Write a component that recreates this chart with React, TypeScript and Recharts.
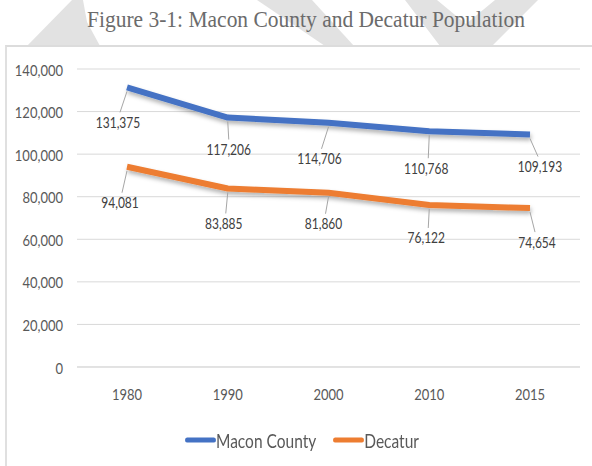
import React from 'react';
import { LineChart, Line, XAxis, YAxis, CartesianGrid, LabelList } from 'recharts';

const years = ['1980', '1990', '2000', '2010', '2015'];
const maconCounty = [131375, 117206, 114706, 110768, 109193];
const decatur = [94081, 83885, 81860, 76122, 74654];
const yTicks = [0, 20000, 40000, 60000, 80000, 100000, 120000, 140000];

const data = years.map((y, i) => ({ year: y, macon: maconCounty[i], decatur: decatur[i] }));

// label placement (dx, dy from point) – styling only
const MACON_OFFSETS = [[-9, 35], [1, 32], [-9, 36], [-3, 37], [10, 32]];
const DECATUR_OFFSETS = [[-7, 36], [-4, 35], [-5, 31], [-3, 33], [7, 34]];

const FONT = 'Lato, "Open Sans", sans-serif';
const BLUE = '#4472C4';
const ORANGE = '#ED7D31';
const TEXT = '#595959';
const STRETCH = 1.25;

const fmt = (v: number) => v.toLocaleString('en-US');

const SText = ({ x, y, anchor = 'middle', size, fill = TEXT, children }: any) => (
  <g transform={`translate(${x},${y}) scale(1,${STRETCH})`}>
    <text x={0} y={0} textAnchor={anchor} dominantBaseline="central" fill={fill} fontSize={size} fontFamily={FONT}>
      {children}
    </text>
  </g>
);

const YTick = (props: any) => {
  const { x, y, payload } = props;
  return <SText x={x} y={y} anchor="end" size={13}>{fmt(payload.value)}</SText>;
};

const XTick = (props: any) => {
  const { x, y, payload } = props;
  return <SText x={x} y={y} size={13}>{payload.value}</SText>;
};

const makeLabel = (offsets: number[][]) => (props: any) => {
  const { x, y, value, index } = props;
  const [dx, dy] = offsets[index] || [0, 34];
  const tx = x + dx;
  const ty = y + dy;
  return (
    <g>
      <line x1={x} y1={y + 4} x2={tx + (dx < 0 ? 2 : dx > 3 ? -2 : 0)} y2={ty - 10} stroke="#a6a6a6" strokeWidth={1} />
      <SText x={tx} y={ty} size={12} fill="#404040">{fmt(value)}</SText>
    </g>
  );
};

const WM = '#e2e2e2';

export default function App() {
  return (
    <div style={{ position: 'absolute', left: 0, top: 0, width: 592, height: 466, background: '#fff', overflow: 'hidden' }}>
      <svg width={592} height={50} style={{ position: 'absolute', left: 0, top: 0 }}>
        <polygon points="27,46 72,0 83,0 87,22 100,46" fill={WM} />
        <polygon points="257,0 312,0 354,46 325,46" fill={WM} />
        <polygon points="405,0 437,0 466,24 495,0 538,0 492,46 440,46" fill={WM} />
        <g transform={`translate(306,27) scale(1,1.12)`}>
          <text x={0} y={0} textAnchor="middle" fontFamily='"Liberation Serif", "Times New Roman", serif' fontSize={21.5} fill="#6b6b6b">
            Figure 3-1: Macon County and Decatur Population
          </text>
        </g>
      </svg>
      <div style={{ position: 'absolute', left: 5, top: 45, width: 600, height: 440, borderTop: '2px solid #dcdcdc', borderLeft: '2px solid #e0e0e0', background: '#fff', boxSizing: 'border-box' }} />
      <div style={{ position: 'absolute', left: 0, top: 0 }}>
        <LineChart width={592} height={466} data={data} margin={{ top: 69, right: 12, bottom: 0, left: 0 }}>
          <defs>
            <filter id="shadow" x="-10%" y="-50%" width="120%" height="200%">
              <feDropShadow dx="1" dy="3" stdDeviation="2" floodColor="#000" floodOpacity="0.3" />
            </filter>
          </defs>
          <CartesianGrid vertical={false} stroke="#d9d9d9" strokeWidth={1} />
          <XAxis
            dataKey="year"
            padding={{ left: 50, right: 50 }}
            axisLine={{ stroke: '#d9d9d9' }}
            tickLine={false}
            tick={<XTick />}
            tickMargin={20}
            height={99}
          />
          <YAxis
            width={77}
            domain={[0, 140000]}
            ticks={yTicks}
            axisLine={false}
            tickLine={false}
            tick={<YTick />}
            tickMargin={8}
          />
          <Line dataKey="macon" stroke={BLUE} strokeWidth={6} dot={false} isAnimationActive={false} filter="url(#shadow)" strokeLinejoin="round">
            <LabelList dataKey="macon" content={makeLabel(MACON_OFFSETS)} />
          </Line>
          <Line dataKey="decatur" stroke={ORANGE} strokeWidth={6} dot={false} isAnimationActive={false} filter="url(#shadow)" strokeLinejoin="round">
            <LabelList dataKey="decatur" content={makeLabel(DECATUR_OFFSETS)} />
          </Line>
        </LineChart>
      </div>
      <div style={{ position: 'absolute', left: 185, top: 428, height: 24, display: 'flex', alignItems: 'center', fontFamily: FONT, fontSize: 15.5, color: TEXT, transform: `scale(1,${STRETCH})`, transformOrigin: '0 50%' }}>
        <span style={{ display: 'inline-block', width: 31, height: 4, background: BLUE, borderRadius: 2 }} />
        <span style={{ marginRight: 17 }}>Macon County</span>
        <span style={{ display: 'inline-block', width: 31, height: 4, background: ORANGE, borderRadius: 2 }} />
        <span>Decatur</span>
      </div>
    </div>
  );
}
